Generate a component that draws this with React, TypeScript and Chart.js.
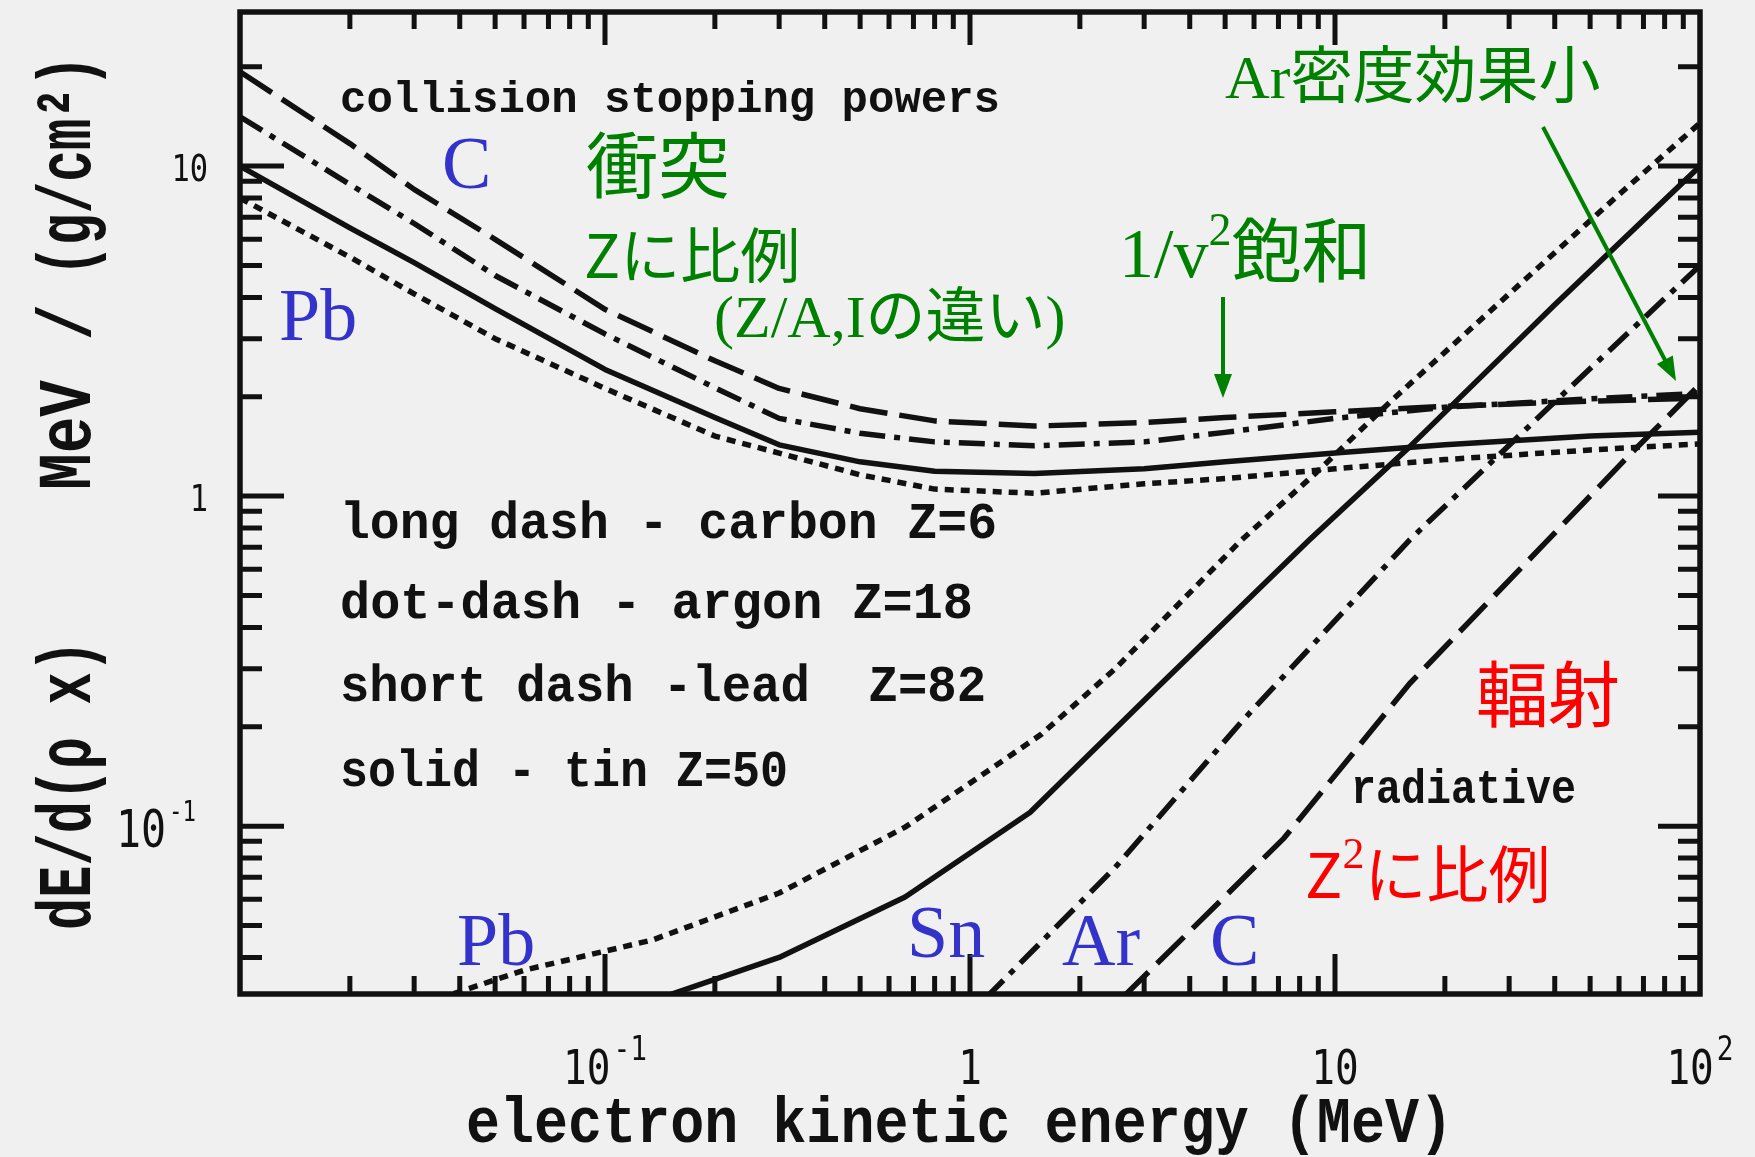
import React, { useEffect, useRef } from "react";
import { Chart, registerables } from "chart.js";

Chart.register(...registerables);

// ---------- axis ranges ----------
const X_MIN = 0.01;
const X_MAX = 100;
const Y_MIN = 0.031;
const Y_MAX = 29.3;

// ---------- collision stopping powers (MeV cm^2/g) ----------
const collisionEnergy = [0.01, 0.02, 0.03, 0.05, 0.1, 0.2, 0.3, 0.5, 0.8, 1.5, 3, 5, 10, 20, 50, 100];
const carbonCollision = [19.3, 11.7, 8.5, 6.0, 3.68, 2.57, 2.12, 1.84, 1.69, 1.63, 1.67, 1.73, 1.8, 1.87, 1.94, 1.98];
const argonCollision = [14.1, 8.8, 6.7, 4.66, 3.1, 2.13, 1.72, 1.55, 1.46, 1.42, 1.46, 1.56, 1.72, 1.86, 1.97, 2.05];
const tinCollision = [10.0, 6.5, 5.1, 3.7, 2.42, 1.73, 1.43, 1.27, 1.19, 1.17, 1.21, 1.27, 1.35, 1.43, 1.52, 1.56];
const leadCollision = [8.0, 5.3, 4.1, 3.0, 2.12, 1.52, 1.35, 1.16, 1.05, 1.02, 1.09, 1.13, 1.21, 1.29, 1.38, 1.44];

// ---------- radiative stopping powers ----------
const leadRadEnergy = [0.035, 0.06, 0.135, 0.3, 0.664, 1.0, 1.57, 2.5, 5.5, 8.9, 14.3, 30, 60, 100];
const leadRadiative = [0.03, 0.0366, 0.0452, 0.0627, 0.0993, 0.135, 0.19, 0.3, 0.73, 1.18, 1.95, 4.1, 8.2, 13.5];
const tinRadEnergy = [0.14, 0.3, 0.664, 1.46, 3.27, 8.5, 16, 40, 100];
const tinRadiative = [0.03, 0.04, 0.061, 0.11, 0.264, 0.736, 1.41, 3.8, 10.0];
const argonRadEnergy = [1.1, 2.5, 5.5, 16, 38, 100];
const argonRadiative = [0.03, 0.075, 0.205, 0.736, 1.83, 5.0];
const carbonRadEnergy = [2.6, 7.25, 16, 37.6, 64, 100];
const carbonRadiative = [0.03, 0.092, 0.27, 0.72, 1.33, 2.18];

// ---------- tick labels ----------
const xTickValues = [0.1, 1, 10, 100];
const xTickBase = ["10", "1", "10", "10"];
const xTickExp = ["-1", "", "", "2"];
const yTickValues = [10, 1, 0.1];
const yTickBase = ["10", "1", "10"];
const yTickExp = ["", "", "-1"];

// ---------- texts ----------
const titleText = "collision stopping powers";
const legendLines = ["long dash - carbon Z=6", "dot-dash - argon Z=18", "short dash -lead  Z=82", "solid - tin Z=50"];
const radiativeText = "radiative";
const xTitle = "electron kinetic energy (MeV)";
const yTitleParts = ["dE/d(\u03c1 x)", "MeV", "/", "(g/cm\u00b2)"];

const BG = "#f0f0f0";
const INK = "#111111";
const BLUE = "#3333cc";
const GREEN = "#008000";
const RED = "#ff0000";
const SERIF = '"Liberation Serif", "Times New Roman", serif';
const CJK = '"Noto Sans CJK JP", "Noto Sans CJK SC", sans-serif';
const MONO = '"Liberation Mono", "DejaVu Sans Mono", monospace';
const DIGIT = '"DejaVu Sans Mono", monospace';

const zip = (xs: number[], ys: number[]) => xs.map((x, i) => ({ x, y: ys[i] }));

function drawFit(ctx: CanvasRenderingContext2D, text: string, left: number, baseline: number, font: string, width: number) {
  ctx.save();
  ctx.font = font;
  ctx.textAlign = "left";
  ctx.textBaseline = "alphabetic";
  const nat = ctx.measureText(text).width;
  ctx.translate(left, baseline);
  ctx.scale(width / nat, 1);
  ctx.fillText(text, 0, 0);
  ctx.restore();
}

type Run = { t: string; font: string; rise?: number };
function drawRuns(ctx: CanvasRenderingContext2D, runs: Run[], x: number, baseline: number, color: string) {
  ctx.save();
  ctx.fillStyle = color;
  ctx.textAlign = "left";
  ctx.textBaseline = "alphabetic";
  let cx = x;
  for (const r of runs) {
    ctx.font = r.font;
    ctx.fillText(r.t, cx, baseline - (r.rise || 0));
    cx += ctx.measureText(r.t).width;
  }
  ctx.restore();
}

function sciLabel(
  ctx: CanvasRenderingContext2D,
  base: string,
  exp: string,
  x: number,
  baseline: number,
  align: "center" | "right",
  baseSize: number,
  expSize: number,
  rise: number,
  sx: number
) {
  ctx.save();
  ctx.fillStyle = INK;
  ctx.textAlign = "left";
  ctx.textBaseline = "alphabetic";
  ctx.font = `${baseSize}px ${DIGIT}`;
  const bw = ctx.measureText(base).width * sx;
  ctx.font = `${expSize}px ${DIGIT}`;
  const ew = exp ? ctx.measureText(exp).width * sx + 3 : 0;
  const total = bw + ew;
  const left = align === "center" ? x - total / 2 : x - total;
  ctx.save();
  ctx.translate(left, baseline);
  ctx.scale(sx, 1);
  ctx.font = `${baseSize}px ${DIGIT}`;
  ctx.fillText(base, 0, 0);
  ctx.restore();
  if (exp) {
    ctx.save();
    ctx.translate(left + bw + 3, baseline - rise);
    ctx.scale(sx, 1);
    ctx.font = `${expSize}px ${DIGIT}`;
    ctx.fillText(exp, 0, 0);
    ctx.restore();
  }
  ctx.restore();
}

function arrow(ctx: CanvasRenderingContext2D, x1: number, y1: number, x2: number, y2: number, color: string) {
  const ang = Math.atan2(y2 - y1, x2 - x1);
  const hl = 24;
  const hw = 9;
  ctx.save();
  ctx.strokeStyle = color;
  ctx.fillStyle = color;
  ctx.lineWidth = 4;
  ctx.beginPath();
  ctx.moveTo(x1, y1);
  ctx.lineTo(x2 - Math.cos(ang) * hl * 0.8, y2 - Math.sin(ang) * hl * 0.8);
  ctx.stroke();
  ctx.beginPath();
  ctx.moveTo(x2, y2);
  ctx.lineTo(x2 - Math.cos(ang) * hl - Math.sin(ang) * hw, y2 - Math.sin(ang) * hl + Math.cos(ang) * hw);
  ctx.lineTo(x2 - Math.cos(ang) * hl + Math.sin(ang) * hw, y2 - Math.sin(ang) * hl - Math.cos(ang) * hw);
  ctx.closePath();
  ctx.fill();
  ctx.restore();
}

const overlayPlugin = {
  id: "overlay",
  beforeDraw(chart: any) {
    const ctx: CanvasRenderingContext2D = chart.ctx;
    ctx.save();
    ctx.fillStyle = BG;
    ctx.fillRect(0, 0, chart.width, chart.height);
    ctx.restore();
  },
  afterDraw(chart: any) {
    const ctx: CanvasRenderingContext2D = chart.ctx;
    const xs = chart.scales.x;
    const ys = chart.scales.y;
    const { left, right, top, bottom } = chart.chartArea;

    // frame
    ctx.save();
    ctx.strokeStyle = INK;
    ctx.lineWidth = 5.5;
    ctx.strokeRect(left, top, right - left, bottom - top);

    // ticks
    ctx.lineWidth = 5;
    ctx.beginPath();
    for (let d = -2; d <= 2; d++) {
      for (let m = 1; m <= 9; m++) {
        const v = m * Math.pow(10, d);
        if (v <= X_MIN * 1.001 || v >= X_MAX * 0.999) continue;
        const px = xs.getPixelForValue(v);
        const major = m === 1;
        ctx.moveTo(px, bottom);
        ctx.lineTo(px, bottom - (major ? 40 : 18));
        ctx.moveTo(px, top);
        ctx.lineTo(px, top + (major ? 33 : 17));
      }
    }
    for (let d = -2; d <= 1; d++) {
      for (let m = 1; m <= 9; m++) {
        const v = m * Math.pow(10, d);
        if (v <= Y_MIN * 1.001 || v >= Y_MAX * 0.999) continue;
        const py = ys.getPixelForValue(v);
        const major = m === 1;
        ctx.moveTo(left, py);
        ctx.lineTo(left + (major ? 44 : 22), py);
        ctx.moveTo(right, py);
        ctx.lineTo(right - (major ? 42 : 22), py);
      }
    }
    ctx.stroke();
    ctx.restore();

    // tick labels
    xTickValues.forEach((v, i) => {
      const px = xs.getPixelForValue(v);
      sciLabel(ctx, xTickBase[i], xTickExp[i], px, 1084, "center", 48, 34, 24, 0.82);
    });
    yTickValues.forEach((v, i) => {
      const py = ys.getPixelForValue(v);
      const big = yTickExp[i] !== "";
      const size = big ? 52 : 38;
      sciLabel(ctx, yTickBase[i], yTickExp[i], big ? 196 : 208, py + (big ? 21 : 15), "right", size, 28, 26, 0.8);
    });

    // axis titles
    ctx.save();
    ctx.fillStyle = INK;
    drawFit(ctx, xTitle, 466, 1142, `bold 64px ${MONO}`, 987);
    ctx.restore();

    const yCenters = [785, 435, 322, 166];
    const yLens = [290, 110, 36, 221];
    yTitleParts.forEach((t, i) => {
      ctx.save();
      ctx.fillStyle = INK;
      ctx.translate(90, yCenters[i]);
      ctx.rotate(-Math.PI / 2);
      drawFit(ctx, t, -yLens[i] / 2, 0, `bold 76px ${MONO}`, yLens[i]);
      ctx.restore();
    });

    // in-plot black texts
    ctx.save();
    ctx.fillStyle = INK;
    drawFit(ctx, titleText, 340, 112, `bold 44px ${MONO}`, 660);
    const legBase = [538, 618, 701, 786];
    const legWidth = [657, 633, 646, 448];
    legendLines.forEach((t, i) => drawFit(ctx, t, 340, legBase[i], `bold 52px ${MONO}`, legWidth[i]));
    drawFit(ctx, radiativeText, 1351, 803, `bold 48px ${MONO}`, 225);
    ctx.restore();

    // blue element labels
    const blueFont = `74px ${SERIF}`;
    drawRuns(ctx, [{ t: "C", font: blueFont }], 442, 188, BLUE);
    drawRuns(ctx, [{ t: "Pb", font: blueFont }], 279, 340, BLUE);
    drawRuns(ctx, [{ t: "Pb", font: blueFont }], 457, 965, BLUE);
    drawRuns(ctx, [{ t: "Sn", font: blueFont }], 907, 957, BLUE);
    drawRuns(ctx, [{ t: "Ar", font: blueFont }], 1062, 965, BLUE);
    drawRuns(ctx, [{ t: "C", font: blueFont }], 1210, 965, BLUE);

    // green annotations
    drawRuns(ctx, [{ t: "衝突", font: `72px ${CJK}` }], 586, 192, GREEN);
    drawRuns(ctx, [{ t: "Zに比例", font: `60px ${CJK}` }], 584, 278, GREEN);
    drawRuns(
      ctx,
      [
        { t: "(Z/A,I", font: `60px ${SERIF}` },
        { t: "の違い", font: `60px ${CJK}` },
        { t: ")", font: `60px ${SERIF}` },
      ],
      714,
      337,
      GREEN
    );
    drawRuns(
      ctx,
      [
        { t: "1/v", font: `70px ${SERIF}` },
        { t: "2", font: `46px ${SERIF}`, rise: 32 },
        { t: "飽和", font: `70px ${CJK}` },
      ],
      1119,
      277,
      GREEN
    );
    drawRuns(
      ctx,
      [
        { t: "Ar", font: `62px ${SERIF}` },
        { t: "密度効果小", font: `62px ${CJK}` },
      ],
      1225,
      98,
      GREEN
    );
    arrow(ctx, 1223, 297, 1223, 398, GREEN);
    arrow(ctx, 1543, 127, 1676, 381, GREEN);

    // red annotations
    drawRuns(ctx, [{ t: "輻射", font: `72px ${CJK}` }], 1476, 721, RED);
    drawRuns(
      ctx,
      [
        { t: "Z", font: `62px ${CJK}` },
        { t: "2", font: `44px ${SERIF}`, rise: 30 },
        { t: "に比例", font: `62px ${CJK}` },
      ],
      1305,
      898,
      RED
    );
  },
};

const LONG_DASH = [38, 12];
const DOT_DASH = [26, 9, 6, 9];
const SHORT_DASH = [9, 7];

export default function App() {
  const canvasRef = useRef<HTMLCanvasElement | null>(null);

  useEffect(() => {
    if (!canvasRef.current) return;
    const line = (data: { x: number; y: number }[], dash: number[]) => ({
      data,
      borderColor: INK,
      borderWidth: 5.5,
      borderDash: dash,
      pointRadius: 0,
      tension: 0,
      fill: false,
      borderJoinStyle: "round" as const,
    });
    const chart = new Chart(canvasRef.current, {
      type: "line",
      data: {
        datasets: [
          { label: "carbon collision", ...line(zip(collisionEnergy, carbonCollision), LONG_DASH) },
          { label: "argon collision", ...line(zip(collisionEnergy, argonCollision), DOT_DASH) },
          { label: "tin collision", ...line(zip(collisionEnergy, tinCollision), []) },
          { label: "lead collision", ...line(zip(collisionEnergy, leadCollision), SHORT_DASH) },
          { label: "lead radiative", ...line(zip(leadRadEnergy, leadRadiative), SHORT_DASH) },
          { label: "tin radiative", ...line(zip(tinRadEnergy, tinRadiative), []) },
          { label: "argon radiative", ...line(zip(argonRadEnergy, argonRadiative), DOT_DASH) },
          { label: "carbon radiative", ...line(zip(carbonRadEnergy, carbonRadiative), LONG_DASH) },
        ],
      },
      options: {
        animation: false,
        responsive: false,
        devicePixelRatio: 1,
        layout: { padding: { left: 240, top: 12, right: 55, bottom: 163 } },
        plugins: { legend: { display: false }, tooltip: { enabled: false }, title: { display: false } },
        scales: {
          x: { type: "logarithmic", min: X_MIN, max: X_MAX, display: false },
          y: { type: "logarithmic", min: Y_MIN, max: Y_MAX, display: false },
        },
      },
      plugins: [overlayPlugin],
    });
    return () => chart.destroy();
  }, []);

  return (
    <div style={{ position: "fixed", left: 0, top: 0, width: 1755, height: 1157, background: BG }}>
      <canvas ref={canvasRef} width={1755} height={1157} style={{ width: 1755, height: 1157, display: "block" }} />
    </div>
  );
}
